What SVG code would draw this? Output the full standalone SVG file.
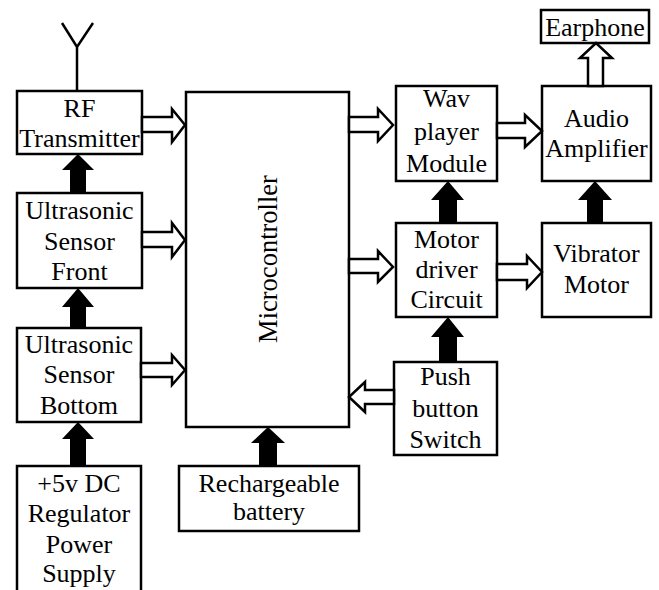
<svg xmlns="http://www.w3.org/2000/svg" width="659" height="590" viewBox="0 0 659 590">
<style>
.box{fill:#fff;stroke:#000;stroke-width:2.5}
.t{font-family:"Liberation Serif","Times New Roman",serif;font-size:26px;fill:#000;text-anchor:middle}
.ha{fill:#fff;stroke:#000;stroke-width:2.5;stroke-linejoin:miter}
.ba{fill:#000;stroke:none}
.ant{fill:none;stroke:#000;stroke-width:2.5}
</style>
<rect width="659" height="590" fill="#fff"/>
<g id="antenna">
<path class="ant" d="M77,91 V47 M62,23 L77,47 L93,23"/>
</g>
<g id="rf">
<rect class="box" x="17" y="91" width="125" height="63"/>
<text class="t" x="79.5" y="117">RF</text>
<text class="t" x="79.5" y="147">Transmitter</text>
</g>
<g id="usfront">
<rect class="box" x="17" y="193" width="125" height="95"/>
<text class="t" x="79.5" y="219">Ultrasonic</text>
<text class="t" x="79.5" y="250">Sensor</text>
<text class="t" x="79.5" y="280">Front</text>
</g>
<g id="usbottom">
<rect class="box" x="17" y="328" width="124" height="94"/>
<text class="t" x="79" y="353">Ultrasonic</text>
<text class="t" x="79" y="383">Sensor</text>
<text class="t" x="79" y="414">Bottom</text>
</g>
<g id="power">
<rect class="box" x="17" y="466" width="124" height="130"/>
<text class="t" x="79" y="492">+5v DC</text>
<text class="t" x="79" y="522">Regulator</text>
<text class="t" x="79" y="553">Power</text>
<text class="t" x="79" y="582">Supply</text>
</g>
<g id="micro">
<rect class="box" x="186" y="92" width="163" height="335"/>
<text class="t" style="font-size:26.5px" transform="translate(277,259) rotate(-90)">Microcontroller</text>
</g>
<g id="battery">
<rect class="box" x="179" y="466" width="180" height="65"/>
<text class="t" x="269" y="492">Rechargeable</text>
<text class="t" x="269" y="520">battery</text>
</g>
<g id="wav">
<rect class="box" x="396" y="86" width="101" height="95"/>
<text class="t" x="446.5" y="107">Wav</text>
<text class="t" x="446.5" y="140">player</text>
<text class="t" x="446.5" y="172">Module</text>
</g>
<g id="motordriver">
<rect class="box" x="396" y="223" width="101" height="94"/>
<text class="t" x="446.5" y="248">Motor</text>
<text class="t" x="446.5" y="278">driver</text>
<text class="t" x="446.5" y="308">Circuit</text>
</g>
<g id="push">
<rect class="box" x="394" y="362" width="103" height="93"/>
<text class="t" x="445.5" y="385">Push</text>
<text class="t" x="445.5" y="417">button</text>
<text class="t" x="445.5" y="448">Switch</text>
</g>
<g id="audio">
<rect class="box" x="542" y="86" width="109" height="95"/>
<text class="t" x="596.5" y="127">Audio</text>
<text class="t" x="596.5" y="157">Amplifier</text>
</g>
<g id="earphone">
<rect class="box" x="541" y="10" width="108" height="33"/>
<text class="t" x="595" y="36">Earphone</text>
</g>
<g id="vibrator">
<rect class="box" x="542" y="223" width="109" height="94"/>
<text class="t" x="596.5" y="262">Vibrator</text>
<text class="t" x="596.5" y="293">Motor</text>
</g>
<g id="connectors">
<polygon class="ha" points="142,117 172,117 172,109 185,125 172,142 172,132 142,132"/>
<polygon class="ha" points="142,232 172,232 172,223 185,240 172,257 172,247 142,247"/>
<polygon class="ha" points="141,363 172,363 172,355 185,370 172,385 172,377 141,377"/>
<polygon class="ha" points="349,117 378,117 378,109 393,125 378,141 378,132 349,132"/>
<polygon class="ha" points="349,259 378,259 378,251 393,267 378,282 378,273 349,273"/>
<polygon class="ha" points="497,123 525,123 525,115 542,131 525,147 525,138 497,138"/>
<polygon class="ha" points="497,264 527,264 527,256 542,272 527,288 527,280 497,280"/>
<polygon class="ha" points="394,390 365,390 365,382 349,397 365,412 365,404 394,404"/>
<polygon class="ha" points="588,86 588,58 580,58 596,43 612,58 603,58 603,86"/>
<polygon class="ba" points="70,193 70,170 62,170 78,154 94,170 86,170 86,193"/>
<polygon class="ba" points="70,328 70,307 62,307 78,288 94,307 86,307 86,328"/>
<polygon class="ba" points="70,466 70,439 62,439 78,422 94,439 86,439 86,466"/>
<polygon class="ba" points="259,466 259,443 251,443 268,427 285,443 277,443 277,466"/>
<polygon class="ba" points="439,223 439,200 431,200 448,181 464,200 457,200 457,223"/>
<polygon class="ba" points="439,362 439,337 431,337 448,317 464,337 457,337 457,362"/>
<polygon class="ba" points="587,223 587,200 578,200 595,181 612,200 603,200 603,223"/>
</g>
</svg>
